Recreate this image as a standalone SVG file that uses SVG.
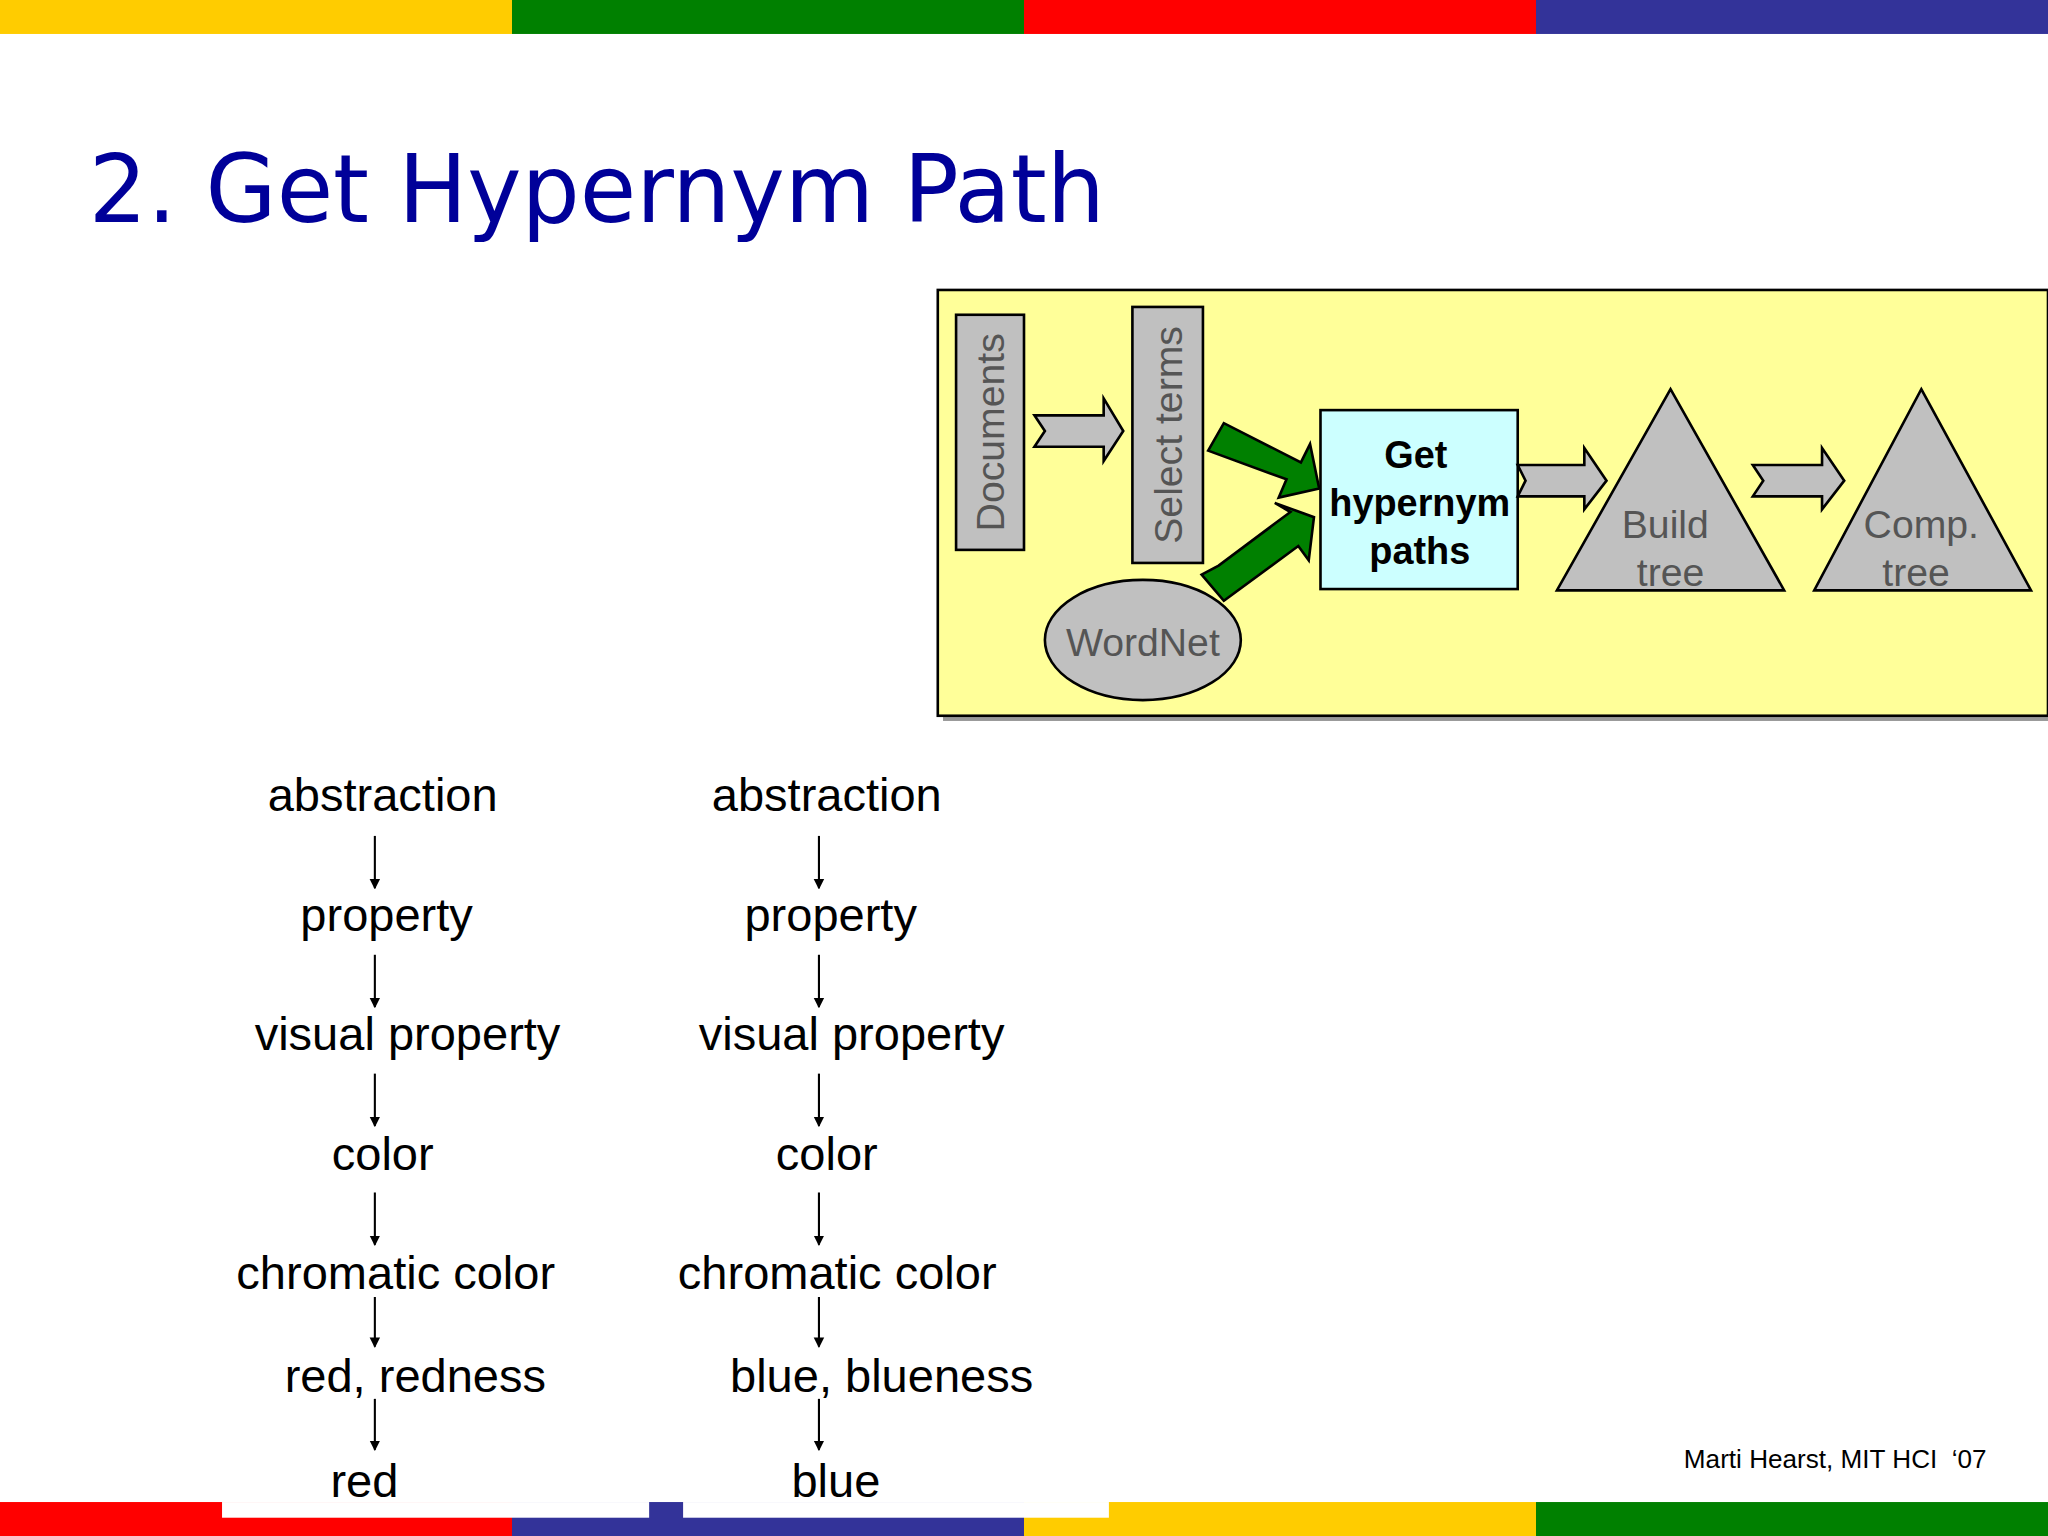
<svg xmlns="http://www.w3.org/2000/svg" width="2048" height="1536" viewBox="0 0 2048 1536">
<defs>
<style>
.t{font-family:"Liberation Sans",Arial,sans-serif;font-size:36px;fill:#000;text-anchor:middle}
.g{font-family:"Liberation Sans",Arial,sans-serif;font-size:30px;fill:#555;text-anchor:middle}
.box{stroke:#000;stroke-width:2}
.ln{stroke:#000;stroke-width:1.6}
</style>
<marker id="ah" markerWidth="8" markerHeight="10" refX="7" refY="5" orient="auto" markerUnits="userSpaceOnUse"><path d="M0,1 L8,5 L0,9 Z" fill="#000"/></marker>
</defs>
<rect width="2048" height="1536" fill="#fff"/>
<g transform="scale(1.30612)">
<g id="bars">
<rect x="0" y="0" width="392" height="26" fill="#ffcc00"/><rect x="392" y="0" width="392" height="26" fill="#008000"/><rect x="784" y="0" width="392" height="26" fill="#ff0000"/><rect x="1176" y="0" width="392" height="26" fill="#333399"/>
<rect x="0" y="1150" width="392" height="26" fill="#ff0000"/><rect x="392" y="1150" width="392" height="26" fill="#333399"/><rect x="784" y="1150" width="392" height="26" fill="#ffcc00"/><rect x="1176" y="1150" width="392" height="26" fill="#008000"/>
<rect x="170" y="1150" width="327" height="12" fill="#fff"/><rect x="523" y="1150" width="326" height="12" fill="#fff"/>
</g>
<text x="68" y="170" font-family="'DejaVu Sans',Verdana,sans-serif" font-size="72" fill="#000099" textLength="778" lengthAdjust="spacingAndGlyphs">2. Get Hypernym Path</text>
<g id="panel">
<rect x="722" y="226" width="850" height="326" fill="#999"/>
<rect x="718" y="222" width="850" height="326" fill="#ffff99" class="box"/>
</g>
<g id="documents"><rect x="732" y="241" width="52" height="180" fill="#c0c0c0" class="box"/><text class="g" transform="translate(769,331) rotate(-90)">Documents</text></g>
<g id="select"><rect x="867" y="235" width="54" height="196" fill="#c0c0c0" class="box"/><text class="g" transform="translate(905,333) rotate(-90)">Select terms</text></g>
<g id="gethyp"><rect x="1011" y="314" width="151" height="137" fill="#ccffff" class="box"/>
<text class="g" style="fill:#000;font-weight:bold;font-size:29px" x="1084" y="358">Get</text>
<text class="g" style="fill:#000;font-weight:bold;font-size:29px" x="1087" y="395">hypernym</text>
<text class="g" style="fill:#000;font-weight:bold;font-size:29px" x="1087" y="432">paths</text></g>
<g id="build"><path d="M1279,298 L1366,452 L1192,452 Z" fill="#c0c0c0" class="box"/><text class="g" x="1275" y="412">Build</text><text class="g" x="1279" y="449">tree</text></g>
<g id="comp"><path d="M1471,298 L1555,452 L1389,452 Z" fill="#c0c0c0" class="box"/><text class="g" x="1471" y="412">Comp.</text><text class="g" x="1467" y="449">tree</text></g>
<g id="wordnet"><ellipse cx="875" cy="490" rx="75" ry="46" fill="#c0c0c0" class="box"/><text class="g" x="875" y="502">WordNet</text></g>
<g id="connectors">
<path d="M792,318 L845,318 L845,305 L860,330 L845,353 L845,342 L792,342 L800,330 Z" fill="#c0c0c0" class="box"/>
<path d="M1162,356 L1213,356 L1213,343 L1230,368 L1213,390 L1213,380 L1162,380 L1168,368 Z" fill="#c0c0c0" class="box"/>
<path d="M1342,356 L1395,356 L1395,343 L1412,368 L1395,390 L1395,380 L1342,380 L1350,368 Z" fill="#c0c0c0" class="box"/>
<path d="M925,345 L937,324 L996,354 L1003,340 L1010,374 L979,381 L985,367 Z" fill="#008000" class="box"/>
<path d="M920,440 L933,433 L988,392 L976,385 L1006,396 L1002,429 L994,418 L937,460 Z" fill="#008000" class="box"/>
<line class="ln" x1="287" y1="640" x2="287" y2="680" marker-end="url(#ah)"/>
<line class="ln" x1="287" y1="731" x2="287" y2="771" marker-end="url(#ah)"/>
<line class="ln" x1="287" y1="822" x2="287" y2="862" marker-end="url(#ah)"/>
<line class="ln" x1="287" y1="913" x2="287" y2="953" marker-end="url(#ah)"/>
<line class="ln" x1="287" y1="993" x2="287" y2="1031" marker-end="url(#ah)"/>
<line class="ln" x1="287" y1="1071" x2="287" y2="1110" marker-end="url(#ah)"/>
<line class="ln" x1="627" y1="640" x2="627" y2="680" marker-end="url(#ah)"/>
<line class="ln" x1="627" y1="731" x2="627" y2="771" marker-end="url(#ah)"/>
<line class="ln" x1="627" y1="822" x2="627" y2="862" marker-end="url(#ah)"/>
<line class="ln" x1="627" y1="913" x2="627" y2="953" marker-end="url(#ah)"/>
<line class="ln" x1="627" y1="993" x2="627" y2="1031" marker-end="url(#ah)"/>
<line class="ln" x1="627" y1="1071" x2="627" y2="1110" marker-end="url(#ah)"/>
</g>
<g id="path-red">
<text class="t" x="293" y="621">abstraction</text><text class="t" x="296" y="713">property</text><text class="t" x="312" y="804">visual property</text><text class="t" x="293" y="896">color</text><text class="t" x="303" y="987">chromatic color</text><text class="t" x="318" y="1066">red, redness</text><text class="t" x="279" y="1146">red</text>
</g>
<g id="path-blue">
<text class="t" x="633" y="621">abstraction</text><text class="t" x="636" y="713">property</text><text class="t" x="652" y="804">visual property</text><text class="t" x="633" y="896">color</text><text class="t" x="641" y="987">chromatic color</text><text class="t" x="675" y="1066">blue, blueness</text><text class="t" x="640" y="1146">blue</text>
</g>
<text x="1521" y="1124" font-family="'Liberation Sans',Arial,sans-serif" font-size="20" text-anchor="end" xml:space="preserve">Marti Hearst, MIT HCI  ‘07</text>
</g>
</svg>
